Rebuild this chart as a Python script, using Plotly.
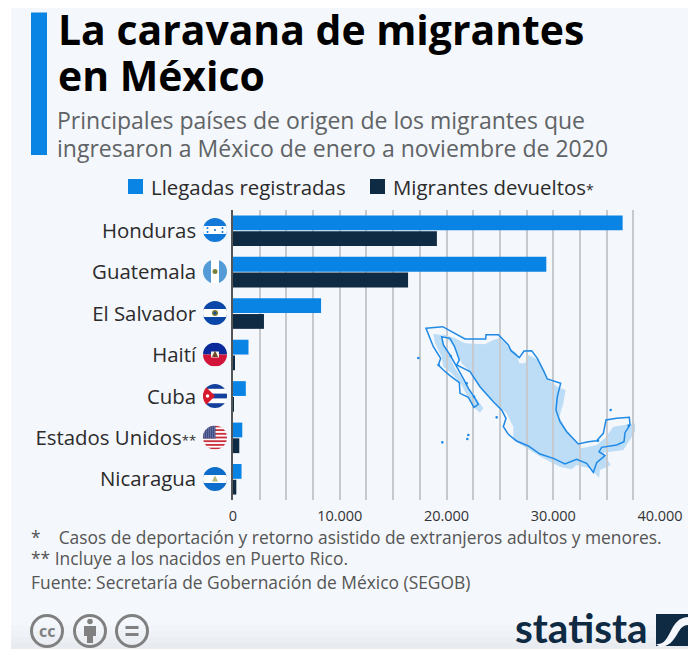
import base64
import plotly.graph_objects as go

W, H = 688, 649

# ---- data ----
categories = ["Honduras", "Guatemala", "El Salvador", "Haití", "Cuba", "Estados Unidos", "Nicaragua"]
category_marks = ["", "", "", "", "", "**", ""]
llegadas = [36500, 29350, 8250, 1450, 1200, 870, 800]
devueltos = [19100, 16400, 2900, 120, 40, 590, 310]
series_names = ["Llegadas registradas", "Migrantes devueltos"]
tick_values = [0, 10000, 20000, 30000, 40000]

title_lines = ["La caravana de migrantes", "en México"]
subtitle_lines = ["Principales países de origen de los migrantes que",
                  "ingresaron a México de enero a noviembre de 2020"]
notes = ["*    Casos de deportación y retorno asistido de extranjeros adultos y menores.",
         "** Incluye a los nacidos en Puerto Rico.",
         "Fuente: Secretaría de Gobernación de México (SEGOB)"]

BLUE = "#0a84e4"
NAVY = "#0f2a43"
PANEL = "#f4f7fb"
FONT = "Open Sans"


def px(x):
    return x / W


def py(y):
    return 1 - y / H


def small(mark, size=13):
    return f'<span style="font-size:{size}px">{mark}</span>' if mark else ""


# Map (3x crop at offset 400,310)
map_land = [(125,72),(165,85),(195,100),(255,103),(280,90),(300,85),(330,115),(350,130),(358,160),(375,160),
            (385,135),(415,150),(435,190),(445,210),(475,232),(497,240),(490,280),(478,320),(500,360),(530,395),
            (545,415),(590,405),(615,385),(640,350),(705,340),(705,365),(670,420),(610,428),(632,465),(600,480),
            (597,503),(570,475),(530,465),(515,478),(480,470),(430,445),(380,415),(340,390),(340,350),(320,310),
            (250,245),(215,190),(185,160),(170,125),(150,95)]
map_baja = [(100,72),(125,75),(135,110),(165,175),(200,225),(250,295),(240,308),(220,290),(205,265),(185,225),
            (155,190),(130,170),(125,140),(105,100)]
map_outline = [(78,55),(128,50),(195,87),(257,87),(258,74),(295,74),(325,105),(333,122),(358,143),(372,123),
               (395,122),(412,145),(432,185),(442,207),(482,220),(472,260),(468,300),(480,335),(500,365),(535,402),
               (565,395),(590,392),(610,370),(618,330),(650,325),(688,322),(690,345),(675,368),(672,395),(650,405),
               (605,412),(597,425),(615,437),(590,458),(580,487),(560,460),(530,448),(495,462),(460,445),(420,432),
               (385,408),(350,393),(325,373),(310,350),(318,325),(305,300),(280,275),(240,230),(210,185),(170,165),
               (178,150),(163,108),(150,85),(125,80),(130,105),(150,135),(170,170),(195,215),(205,235),(222,260),
               (235,283),(222,292),(205,262),(180,250),(178,218),(150,197),(130,180),(115,165),(122,145),(100,110)]
map_islands = [(55,144),(290,322),(632,300),(205,375),(202,387),(127,397),(116,165),(152,138),(200,220),(222,260),(686,347),(594,392)]


def mx(p):
    return (400 + p[0] / 3, 310 + p[1] / 3)


def path(points):
    pts = [mx(p) for p in points]
    return "M" + " L".join(f"{px(a):.5f},{py(b):.5f}" for a, b in pts) + " Z"


def rect(x0, y0, x1, y1, color, layer="below"):
    return dict(type="rect", xref="paper", yref="paper", x0=px(x0), x1=px(x1), y0=py(y0), y1=py(y1),
                fillcolor=color, line_width=0, layer=layer)


def circle(cx, cy, r, line, width, fill="rgba(0,0,0,0)"):
    return dict(type="circle", xref="paper", yref="paper", x0=px(cx - r), x1=px(cx + r), y0=py(cy + r), y1=py(cy - r),
                line=dict(color=line, width=width), fillcolor=fill, layer="above")


def text(x, y, s, size, color, anchor="left", weight=None, family=FONT):
    return dict(xref="paper", yref="paper", x=px(x), y=py(y), text=s, showarrow=False, xanchor=anchor, yanchor="middle",
                font=dict(size=size, color=color, family=family, weight=weight), align="left",
                borderpad=0, borderwidth=0)


def flag_svg(body):
    svg = ('<svg xmlns="http://www.w3.org/2000/svg" viewBox="0 0 48 48" width="96" height="96">'
           '<defs><clipPath id="c"><circle cx="24" cy="24" r="24"/></clipPath></defs>'
           f'<g clip-path="url(#c)">{body}</g></svg>')
    return "data:image/svg+xml;base64," + base64.b64encode(svg.encode()).decode()


def r(x, y, w, h, c):
    return f'<rect x="{x}" y="{y}" width="{w}" height="{h}" fill="{c}"/>'


def c(x, y, rad, col):
    return f'<circle cx="{x}" cy="{y}" r="{rad}" fill="{col}"/>'


usa = r(0, 0, 48, 48, "#fff") + "".join(r(0, i * 48 / 13, 48, 48 / 13, "#c8313e") for i in range(0, 13, 2))
usa += r(0, 0, 25, 26, "#3f4d86") + "".join(c(3 + 4 * i, 3 + 4 * j, 0.9, "#cdd3e6") for i in range(6) for j in range(6))
cuba = r(0, 0, 48, 48, "#fff") + "".join(r(0, y, 48, 9.6, "#12409c") for y in (0, 19.2, 38.4))
cuba += '<path d="M0,0 L24,24 L0,48 Z" fill="#d8192c"/>' + c(9, 24, 3.5, "#fff")
flag_bodies = [
    r(0, 0, 48, 48, "#1279d8") + r(0, 16, 48, 16, "#fff") + c(24, 24, 2, "#1279d8") + "".join(
        c(x, y, 2, "#1279d8") for x, y in [(9, 20), (9, 28), (39, 20), (39, 28)]),
    r(0, 0, 48, 48, "#fff") + r(0, 0, 16, 48, "#529bd6") + r(32, 0, 16, 48, "#529bd6") + c(24, 24, 5, "#79803a"),
    r(0, 0, 48, 48, "#0b47a8") + r(0, 16, 48, 16, "#fff") + c(24, 24, 6, "#7a7a30") + c(24, 24, 3, "#1b4d9c"),
    r(0, 0, 48, 24, "#0a2a9c") + r(0, 24, 48, 24, "#d2143a") + r(16, 18, 16, 12, "#f4eee4") + '<path d="M18,29 L24,16 L30,29 Z" fill="#6b4a2c"/>',
    cuba,
    usa,
    r(0, 0, 48, 48, "#0f6ecb") + r(0, 16, 48, 16, "#fff") + '<path d="M18,29 L24,17 L30,29 Z" fill="#b8b878"/>',
]

fig = go.Figure()
fig.add_bar(name=series_names[0], y=categories, x=llegadas, orientation="h", marker_color=BLUE, marker_line_width=0)
fig.add_bar(name=series_names[1], y=categories, x=devueltos, orientation="h", marker_color=NAVY, marker_line_width=0)

shapes = [rect(11, 8, W, H, PANEL)]
shapes += [rect(11, 625 + 6 * i, W, H, "rgba(120,120,120,0.022)") for i in range(4)]
shapes += [dict(type="path", xref="paper", yref="paper", path=path(map_land), fillcolor="#bddcf6", line_width=0, layer="below"),
           dict(type="path", xref="paper", yref="paper", path=path(map_baja), fillcolor="#bddcf6", line_width=0, layer="below"),
           dict(type="path", xref="paper", yref="paper", path=path(map_outline), fillcolor="rgba(0,0,0,0)",
                line=dict(color="#1f8ae6", width=1.5), layer="above")]
for p in map_islands:
    a, b = mx(p)
    shapes.append(dict(type="circle", xref="paper", yref="paper", x0=px(a - 1.3), x1=px(a + 1.3), y0=py(b + 1.3), y1=py(b - 1.3),
                       fillcolor="#1f8ae6", line_width=0, layer="above"))
shapes.append(rect(31, 12.5, 47, 155, BLUE))
shapes.append(rect(128, 179, 143, 194, BLUE))
shapes.append(rect(370, 179, 385, 194, NAVY))
# CC icons
for cx in (47, 90, 132):
    shapes.append(circle(cx, 631, 15.5, "#808080", 3))
shapes.append(rect(125.5, 626, 138.5, 629, "#808080", "above"))
shapes.append(rect(125.5, 633, 138.5, 636, "#808080", "above"))
shapes.append(circle(90, 621.5, 2.8, "#808080", 0, "#808080"))
shapes.append(dict(type="path", xref="paper", yref="paper", fillcolor="#808080", line_width=0, layer="above",
                   path=f"M{px(84)},{py(626)} L{px(96)},{py(626)} L{px(96)},{py(636)} L{px(93)},{py(636)} L{px(93)},{py(643)} L{px(87)},{py(643)} L{px(87)},{py(636)} L{px(84)},{py(636)} Z"))
# Statista mark
shapes.append(rect(656, 614, 688, 646, NAVY, "above"))
shapes.append(dict(type="path", xref="paper", yref="paper", fillcolor=PANEL, line_width=0, layer="above",
                   path=f"M{px(656)},{py(644)} C{px(672)},{py(646)} {px(668)},{py(618)} {px(688)},{py(617)} L{px(688)},{py(625)} C{px(676)},{py(625)} {px(678)},{py(646)} {px(660)},{py(647)} Z"))

annotations = [text(58, 29.5, title_lines[0], 40.9, "#000000", weight=700),
               text(58, 74.5, title_lines[1], 40.9, "#000000", weight=700),
               text(57, 120, subtitle_lines[0], 23, "#5f6366"),
               text(57, 148, subtitle_lines[1], 23, "#5f6366"),
               text(151, 187, series_names[0], 20.4, "#2b2b2b"),
               text(393, 187, series_names[1] + small("*", 14), 20.4, "#2b2b2b"),
               text(31, 537, notes[0], 17.4, "#555555"),
               text(31, 558, notes[1], 17.4, "#555555"),
               text(31, 582, notes[2], 17.4, "#555555"),
               text(515, 627, "statista", 40.5, NAVY, weight=700, family="Lato"),
               text(47, 631, "cc", 16, "#808080", anchor="center", weight=700)]

images = [dict(source=flag_svg(b), xref="paper", yref="paper", x=px(203), y=py(218 + 41.5 * i), sizex=24 / W, sizey=24 / H,
               xanchor="left", yanchor="top", sizing="stretch", layer="above") for i, b in enumerate(flag_bodies)]

GRID = "#c6cace"
fig.update_layout(
    template="none",
    width=W, height=H, autosize=False, margin=dict(l=0, r=0, t=0, b=0, pad=0),
    paper_bgcolor="#ffffff", plot_bgcolor="rgba(0,0,0,0)", separators=",.",
    barmode="group", bargap=0.24, bargroupgap=0.06, showlegend=False,
    font=dict(family=FONT, color="#333333"),
    shapes=shapes, annotations=annotations, images=images,
    xaxis=dict(domain=[px(233), px(660)], range=[0, 40000], tickvals=tick_values, tickformat=",d", automargin=False,
               showgrid=True, gridcolor=GRID, gridwidth=1.5, zeroline=False, showline=False, ticks="",
               ticklabelstandoff=5, tickfont=dict(size=14.5, color="#333333"),
               minor=dict(dtick=2500, showgrid=True, gridcolor=GRID, gridwidth=1.5), anchor="y"),
    yaxis=dict(domain=[py(500), py(210)], autorange="reversed", type="category", showgrid=False, zeroline=False,
               automargin=False, showline=True, linecolor="#555555", linewidth=1.5, ticks="", ticklabelstandoff=31,
               tickmode="array", tickvals=categories, ticktext=[n + small(m) for n, m in zip(categories, category_marks)],
               tickfont=dict(size=20.4, color="#2b2b2b"), anchor="x"),
)
fig.write_html("out.html", config=dict(displayModeBar=False),
               post_script="document.body.style.margin='0';document.documentElement.style.overflow='hidden';")
